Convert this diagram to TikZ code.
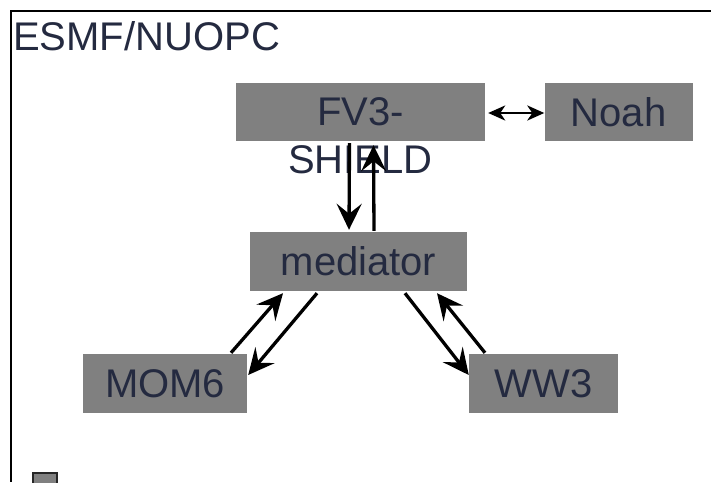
\documentclass[tikz,border=0pt]{standalone}
\usepackage{fontspec}
\setmainfont{Liberation Sans}
\usetikzlibrary{arrows.meta}
\definecolor{boxgray}{RGB}{128,128,128}
\definecolor{txtcol}{RGB}{36,42,64}
\tikzset{
  compbox/.style={fill=boxgray, draw=none, inner sep=0pt, text=txtcol,
    font=\fontsize{40}{46}\selectfont},
  plaintxt/.style={inner sep=0pt, text=txtcol, font=\fontsize{40}{46}\selectfont},
  bigarrow/.style={line width=3.3pt, -{Stealth[length=26pt,width=25pt,inset=10pt]}},
  smallarrow/.style={line width=2.6pt, {Stealth[length=17pt,width=15pt,inset=5pt]}-{Stealth[length=17pt,width=15pt,inset=5pt]}}
}
\begin{document}
\begin{tikzpicture}[x=1pt,y=-1pt]
\useasboundingbox (0,0) rectangle (711,482);
% frame
\draw[line width=2pt] (711,11) -- (11,11) -- (11,482);
\node[plaintxt, anchor=base west] (title) at (13,50) {ESMF/NUOPC};
% boxes
\node[compbox, minimum width=249pt, minimum height=58pt] (fv3) at (360.5,112) {FV3-};
\node[plaintxt, anchor=base] (shield) at (360.5,173) {SHIELD};
\node[compbox, minimum width=148pt, minimum height=58pt] (noah) at (618.5,112) {Noah};
\node[compbox, minimum width=217pt, minimum height=59pt] (med) at (358.5,261.5) {mediator};
\node[compbox, minimum width=164pt, minimum height=59pt] (mom) at (165,383.5) {MOM6};
\node[compbox, minimum width=149pt, minimum height=59pt] (ww3) at (543.5,383.5) {WW3};
% small square
\node[draw=black!85, line width=2pt, fill=boxgray, minimum width=24pt, minimum height=16pt, inner sep=0pt, anchor=north west] (sq) at (32,472) {};
% connectors
\draw[smallarrow] (fv3.east) ++(3,1) coordinate (fve) -- (noah.west |- fve);
\draw[bigarrow] (fv3.south) ++(-11,2) -- ([shift={(-9.5,-2)}]med.north);
\draw[bigarrow] ([shift={(15.5,-1)}]med.north) -- ([shift={(13,4)}]fv3.south);
\draw[bigarrow] (mom.north) ++(66,-1) -- ([shift={(-75.5,2)}]med.south);
\draw[bigarrow] (med.south) ++(-41.5,2) -- ([shift={(1,-8.5)}]mom.east);
\draw[bigarrow] (med.south) ++(46.5,2) -- ([shift={(0,-8.5)}]ww3.west);
\draw[bigarrow] (ww3.north) ++(-58.5,-1) -- ([shift={(78.5,2)}]med.south);
\end{tikzpicture}
\end{document}
